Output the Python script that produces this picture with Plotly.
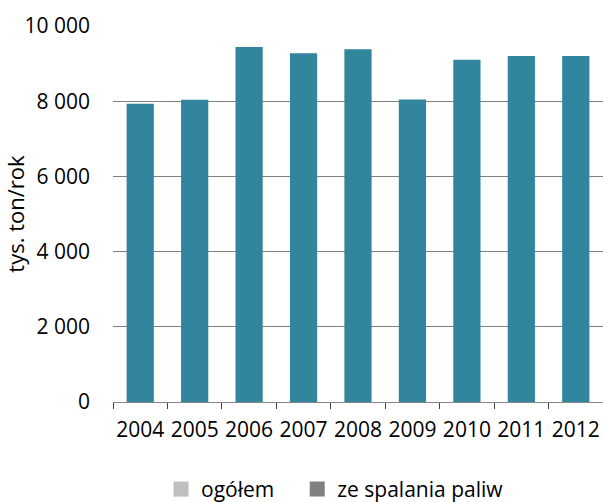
import plotly.graph_objects as go

years = ["2004", "2005", "2006", "2007", "2008", "2009", "2010", "2011", "2012"]
values = [7930, 8040, 9440, 9275, 9380, 8045, 9105, 9200, 9200]
legend_names = ["ogółem", "ze spalania paliw"]
legend_colors = ["#BFBFBF", "#808080"]
y_tickvals = [0, 2000, 4000, 6000, 8000, 10000]
y_ticktext = ["0", "2 000", "4 000", "6 000", "8 000", "10 000"]

FONT = "Open Sans"

fig = go.Figure()
fig.add_trace(go.Bar(x=years, y=values, marker=dict(color="#31859C", line=dict(width=0)),
                     showlegend=False, hoverinfo="x+y"))
legend_ids = ["legend", "legend2"]
for name, col, lid in zip(legend_names, legend_colors, legend_ids):
    fig.add_trace(go.Scatter(x=[None], y=[None], name=name, mode="markers", legend=lid,
                             marker=dict(color=col, symbol="square", size=15)))

leg_common = dict(orientation="h", xanchor="left", yref="container", y=0.025,
                  yanchor="middle", font=dict(family=FONT, size=21),
                  itemsizing="trace", itemwidth=30, bgcolor="rgba(0,0,0,0)")

fig.update_layout(
    width=603, height=502,
    margin=dict(l=113, r=0, t=26, b=100),
    paper_bgcolor="white", plot_bgcolor="white",
    barmode="overlay", bargap=0.5,
    font=dict(family=FONT, size=21, color="black"),
    showlegend=True,
    legend=dict(x=0.098, **leg_common),
    legend2=dict(x=0.376, **leg_common),
)
fig.update_xaxes(type="category", showline=True, linecolor="#868686", linewidth=1,
                 ticks="outside", tickson="boundaries", ticklen=6, tickcolor="#404040",
                 showgrid=False, tickfont=dict(size=21), tickangle=0,
                 ticklabelstandoff=9, automargin=False)
fig.update_yaxes(range=[0, 10000], tickvals=y_tickvals, ticktext=y_ticktext,
                 showgrid=True, gridcolor="#808080", gridwidth=1, zeroline=False,
                 showline=False, ticks="", tickfont=dict(size=21), ticklabelstandoff=22,
                 title=dict(text="tys. ton/rok", font=dict(size=22), standoff=4))

fig.write_html("out.html")
